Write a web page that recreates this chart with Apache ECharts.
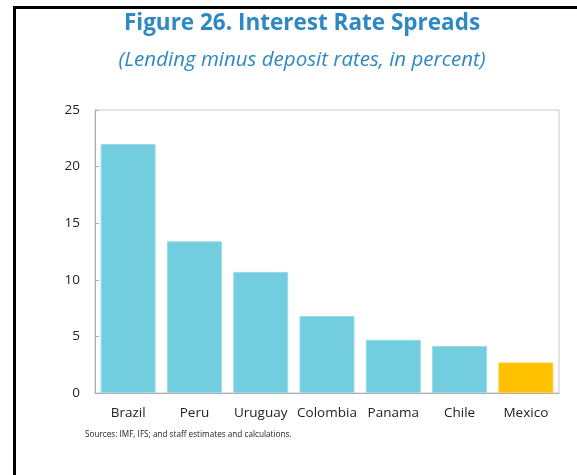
<!DOCTYPE html>
<html>
<head>
<meta charset="utf-8">
<script src="https://cdn.jsdelivr.net/npm/echarts@6/dist/echarts.min.js"></script>
<style>
  html, body { margin: 0; padding: 0; background: #fff; }
  #frame { position: absolute; left: 13px; top: 6px; width: 564px; height: 469px;
           border-left: 3px solid #000; border-top: 3px solid #000; box-sizing: border-box; }
  #chart { position: absolute; left: 0; top: 0; width: 577px; height: 475px; }
</style>
</head>
<body>
<div id="frame"></div>
<div id="chart"></div>
<script>
// Interest rate spreads by country (lending minus deposit rates, percent)
const countries = ['Brazil', 'Peru', 'Uruguay', 'Colombia', 'Panama', 'Chile', 'Mexico'];
const spreads = [22.0, 13.4, 10.7, 6.8, 4.7, 4.15, 2.7];
const highlighted = 'Mexico';
const yTicks = [0, 5, 10, 15, 20, 25];

const baseColor = '#72CDDF';
const highlightColor = '#FFC000';

const chart = echarts.init(document.getElementById('chart'), null, { renderer: 'canvas' });

chart.setOption({
  animation: false,
  textStyle: { fontFamily: 'Open Sans, Noto Sans, sans-serif' },
  title: [
    {
      text: 'Figure 26. Interest Rate Spreads',
      left: 297, top: 7, textAlign: 'center',
      textStyle: { color: '#2D88C4', fontSize: 22.5, fontWeight: 'bold', fontFamily: 'Open Sans, sans-serif' }
    },
    {
      text: '(Lending minus deposit rates, in percent)',
      left: 297, top: 45, textAlign: 'center',
      textStyle: { color: '#2D88C4', fontSize: 20.5, fontStyle: 'italic', fontWeight: 'normal', fontFamily: 'Open Sans, sans-serif' }
    },
    {
      text: 'Sources: IMF, IFS; and staff estimates and calculations.',
      left: 80, top: 426,
      textStyle: { color: '#222', fontSize: 8.2, fontWeight: 'normal', fontFamily: 'Open Sans, sans-serif' }
    }
  ],
  grid: {
    left: 95, top: 110, right: 18, bottom: 82,
    show: true, borderColor: '#c8c8c8', borderWidth: 1, backgroundColor: 'transparent'
  },
  xAxis: {
    type: 'category',
    data: countries,
    axisLine: { lineStyle: { color: '#b0b0b0', width: 1 } },
    axisTick: { show: false },
    axisLabel: { color: '#222', fontSize: 13.5, margin: 13, interval: 0 }
  },
  yAxis: {
    type: 'value',
    min: yTicks[0], max: yTicks[yTicks.length - 1], interval: 5,
    axisLine: { show: true, lineStyle: { color: '#b0b0b0', width: 1 } },
    axisTick: { show: true, inside: true, length: 4, lineStyle: { color: '#b0b0b0' } },
    splitLine: { show: false },
    axisLabel: { color: '#222', fontSize: 13.5, margin: 15 }
  },
  series: [{
    type: 'bar',
    barCategoryGap: '17%',
    data: spreads.map((v, i) => ({
      value: v,
      itemStyle: {
        color: countries[i] === highlighted ? highlightColor : baseColor,
        borderColor: countries[i] === highlighted ? '#FFD040' : '#9ADCE9',
        borderWidth: 1
      }
    }))
  }]
});
</script>
</body>
</html>
